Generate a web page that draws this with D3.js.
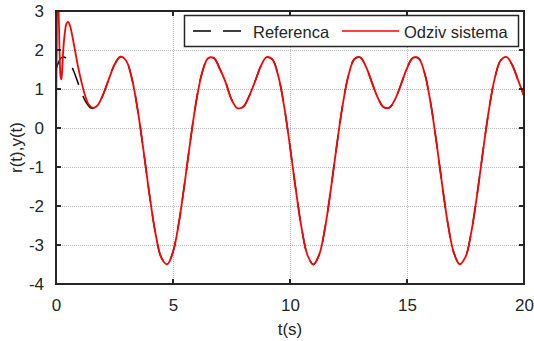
<!DOCTYPE html>
<html>
<head>
<meta charset="utf-8">
<script src="https://cdn.jsdelivr.net/npm/d3@7"></script>
<style>
  body { margin: 0; background: #fff; }
  text { font-family: "Liberation Sans", Arial, sans-serif; fill: #262626; }
</style>
</head>
<body>
<div id="content"></div>
<script>
// reference r(t), read every 0.25 s
var refT = d3.range(0, 20.001, 0.25);
var refY = [1.5, 1.811, 1.769, 1.469, 1.059, 0.696, 0.51, 0.563, 0.838, 1.24,
  1.622, 1.827, 1.723, 1.249, 0.429, -0.623, -1.732, -2.693, -3.322, -3.494,
  -3.177, -2.431, -1.404, -0.292, 0.707, 1.43, 1.791, 1.792, 1.519, 1.169,
  0.736, 0.511, 0.542, 0.813, 1.184, 1.58, 1.815, 1.757, 1.333, 0.555,
  -0.476, -1.588, -2.581, -3.262, -3.5, -3.246, -2.551, -1.551, -0.437, 0.587,
  1.354, 1.765, 1.811, 1.567, 1.169, 0.779, 0.537, 0.523, 0.748, 1.129,
  1.532, 1.798, 1.785, 1.411, 0.676, -0.331, -1.444, -2.465, -3.196, -3.494,
  -3.307, -2.665, -1.694, -0.583, 0.463, 1.272, 1.731, 1.823, 1.61, 1.224, 0.825];

// system response start (transient); afterwards it follows the reference
var respT = [0, 0.03, 0.06, 0.09, 0.12, 0.16, 0.2, 0.23, 0.27, 0.31, 0.38, 0.45, 0.52,
  0.6, 0.7, 0.81, 0.95, 1.1, 1.25, 1.4, 1.55];
var respY = [0, 2.0, 3.3, 3.4, 2.8, 1.8, 1.3, 1.25, 1.55, 2.0, 2.45, 2.68, 2.72,
  2.62, 2.35, 2.0, 1.55, 1.15, 0.82, 0.6, 0.52];

var xTicks = [0, 5, 10, 15, 20];
var yTicks = [-4, -3, -2, -1, 0, 1, 2, 3];
var seriesNames = ["Referenca", "Odziv sistema"];

var W = 534, H = 341;
var plotL = 56, plotR = 524, plotT = 11, plotB = 284;

var svg = d3.select("#content").append("svg")
  .attr("width", W)
  .attr("height", H);

var x = d3.scaleLinear().domain([0, 20]).range([plotL, plotR]);
var y = d3.scaleLinear().domain([-4, 3]).range([plotB, plotT]);

svg.append("defs").append("clipPath").attr("id", "plot")
  .append("rect")
  .attr("x", plotL).attr("y", plotT)
  .attr("width", plotR - plotL).attr("height", plotB - plotT);

// grid
var grid = svg.append("g")
  .attr("stroke", "#b8b8b8")
  .attr("stroke-width", 1)
  .attr("stroke-dasharray", "1,1");
grid.selectAll(".gx").data(xTicks.slice(1, -1)).enter().append("line")
  .attr("x1", d => Math.round(x(d)) + 0.5).attr("x2", d => Math.round(x(d)) + 0.5)
  .attr("y1", plotT).attr("y2", plotB);
grid.selectAll(".gy").data(yTicks.slice(1, -1)).enter().append("line")
  .attr("y1", d => Math.round(y(d)) + 0.5).attr("y2", d => Math.round(y(d)) + 0.5)
  .attr("x1", plotL).attr("x2", plotR);

// data
var refData = refT.map((t, i) => [t, refY[i]]);
var respData = respT.map((t, i) => [t, respY[i]])
  .concat(refData.filter(d => d[0] > 1.6));

var line = d3.line()
  .x(d => x(d[0]))
  .y(d => y(d[1]))
  .curve(d3.curveCatmullRom.alpha(0.5));

var plot = svg.append("g").attr("clip-path", "url(#plot)");
plot.append("path")
  .datum(refData)
  .attr("d", line)
  .attr("fill", "none")
  .attr("stroke", "#000")
  .attr("stroke-width", 1.5)
  .attr("stroke-dasharray", "18,12");
plot.append("path")
  .datum(respData)
  .attr("d", line)
  .attr("fill", "none")
  .attr("stroke", "#ff0000")
  .attr("stroke-width", 1.8);

// axes with ticks on every side
var tickLen = 5;
var fmt = d => String(d);
var axX = d3.axisBottom(x).tickValues(xTicks).tickSize(0).tickPadding(15).tickFormat(fmt);
var axY = d3.axisLeft(y).tickValues(yTicks).tickSize(0).tickPadding(12).tickFormat(fmt);

var gx = svg.append("g").attr("transform", "translate(0," + plotB + ")").call(axX);
var gy = svg.append("g").attr("transform", "translate(" + plotL + ",0)").call(axY);
[gx, gy].forEach(g => {
  g.select(".domain").remove();
  g.selectAll("text").attr("font-size", 17).attr("fill", "#262626")
    .attr("font-family", "Liberation Sans, Arial, sans-serif");
});
gx.selectAll("text").attr("dy", "0.71em").attr("y", 15);

var ticks = svg.append("g").attr("stroke", "#262626").attr("stroke-width", 2);
xTicks.forEach(t => {
  ticks.append("line").attr("x1", x(t)).attr("x2", x(t)).attr("y1", plotB).attr("y2", plotB - tickLen);
  ticks.append("line").attr("x1", x(t)).attr("x2", x(t)).attr("y1", plotT).attr("y2", plotT + tickLen);
});
yTicks.forEach(v => {
  ticks.append("line").attr("y1", y(v)).attr("y2", y(v)).attr("x1", plotL).attr("x2", plotL + tickLen);
  ticks.append("line").attr("y1", y(v)).attr("y2", y(v)).attr("x1", plotR).attr("x2", plotR - tickLen);
});

svg.append("rect")
  .attr("x", plotL).attr("y", plotT)
  .attr("width", plotR - plotL).attr("height", plotB - plotT)
  .attr("fill", "none")
  .attr("stroke", "#262626")
  .attr("stroke-width", 2);

// axis titles
svg.append("text")
  .attr("x", (plotL + plotR) / 2).attr("y", 335)
  .attr("text-anchor", "middle")
  .attr("font-size", 17)
  .text("t(s)");
svg.append("text")
  .attr("transform", "translate(22," + ((plotT + plotB) / 2) + ") rotate(-90)")
  .attr("text-anchor", "middle")
  .attr("font-size", 17)
  .text("r(t),y(t)");

// legend
var lg = svg.append("g");
lg.append("rect")
  .attr("x", 184.5).attr("y", 15.5).attr("width", 334).attr("height", 31)
  .attr("fill", "#fff").attr("stroke", "#262626").attr("stroke-width", 1.5);
lg.append("line")
  .attr("x1", 193).attr("x2", 250).attr("y1", 31).attr("y2", 31)
  .attr("stroke", "#000").attr("stroke-width", 1.5).attr("stroke-dasharray", "18,12");
lg.append("text").attr("x", 253).attr("y", 38).attr("font-size", 16.5).text(seriesNames[0]);
lg.append("line")
  .attr("x1", 342).attr("x2", 399).attr("y1", 31).attr("y2", 31)
  .attr("stroke", "#ff0000").attr("stroke-width", 1.5);
lg.append("text").attr("x", 404).attr("y", 38).attr("font-size", 16.5).text(seriesNames[1]);
</script>
</body>
</html>
